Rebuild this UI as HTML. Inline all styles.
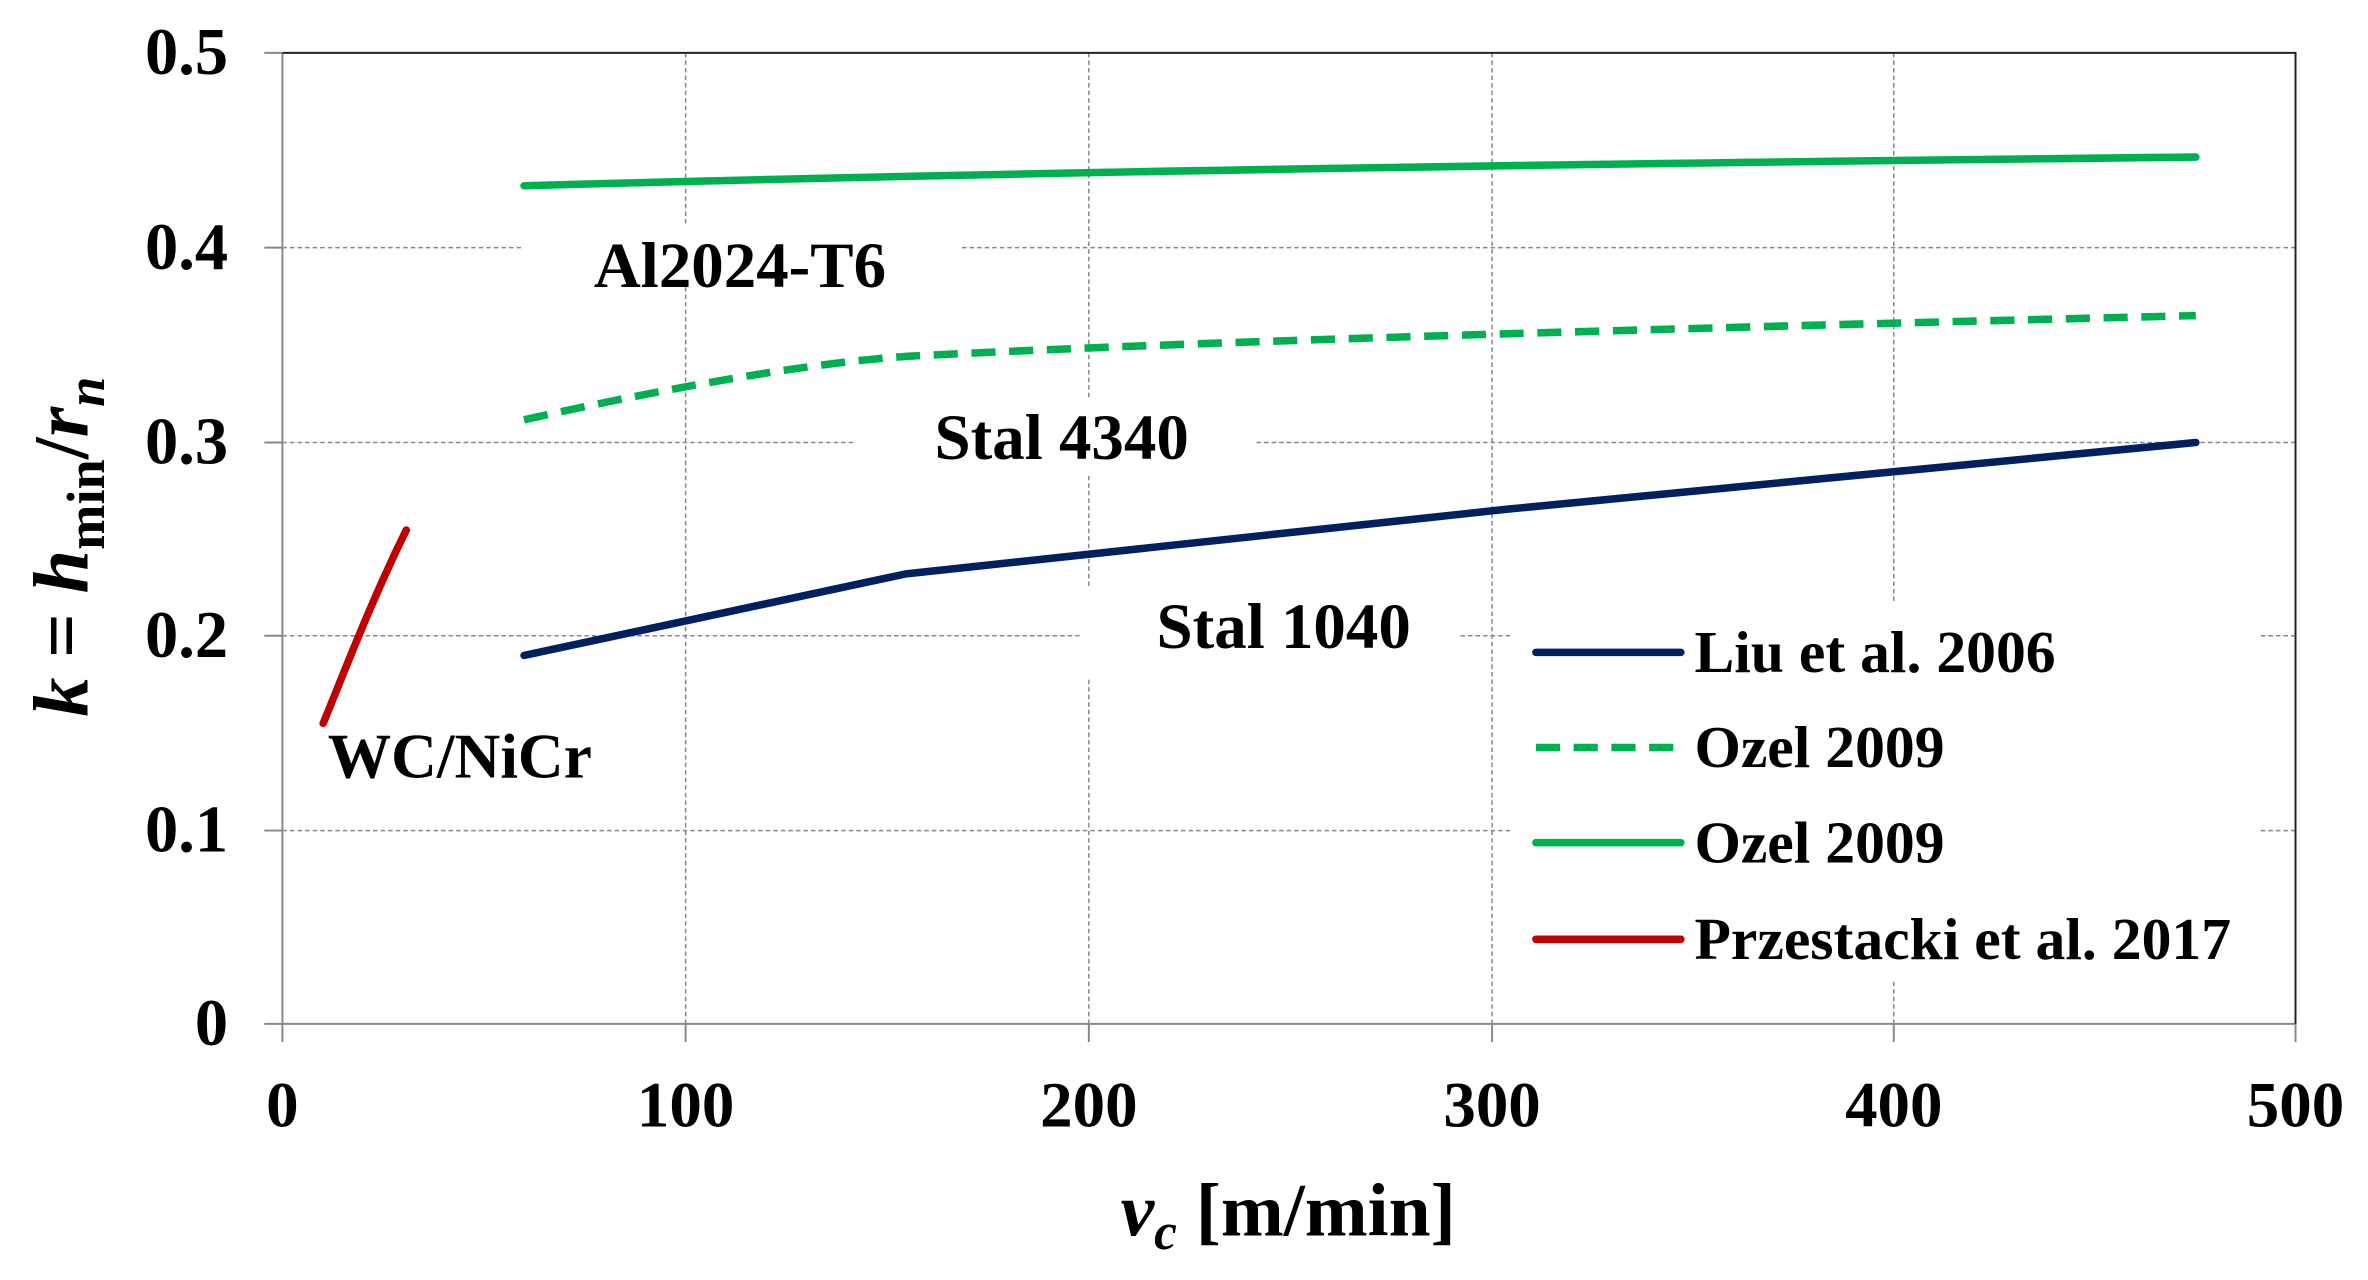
<!DOCTYPE html>
<html><head><meta charset="utf-8"><style>html,body{margin:0;padding:0;background:#fff}svg{display:block}</style></head>
<body>
<svg width="2368" height="1280" viewBox="0 0 1568 847.6" preserveAspectRatio="none" xmlns="http://www.w3.org/2000/svg" font-family="Liberation Serif, serif" font-weight="bold">
<rect width="1568" height="848" fill="#fff"/>
<g stroke="#888" stroke-width="1" stroke-dasharray="3,2">
<line x1="187" y1="164" x2="1520" y2="164"/>
<line x1="187" y1="293" x2="1520" y2="293"/>
<line x1="187" y1="421" x2="1520" y2="421"/>
<line x1="187" y1="550" x2="1520" y2="550"/>
<line x1="454" y1="35" x2="454" y2="678"/>
<line x1="721" y1="35" x2="721" y2="678"/>
<line x1="988" y1="35" x2="988" y2="678"/>
<line x1="1254" y1="35" x2="1254" y2="678"/>
</g>
<g fill="#fff">
<rect x="345" y="150" width="290" height="40"/>
<rect x="565" y="265" width="265" height="50"/>
<rect x="715" y="390" width="250" height="60"/>
<rect x="212" y="480" width="195" height="40"/>
<rect x="1000" y="400" width="495" height="250"/>
</g>
<g stroke="#888" stroke-width="1.3">
<line x1="187" y1="35" x2="187" y2="690"/>
<line x1="175" y1="678" x2="1520" y2="678"/>
<line x1="175" y1="35" x2="187" y2="35"/>
<line x1="175" y1="164" x2="187" y2="164"/>
<line x1="175" y1="293" x2="187" y2="293"/>
<line x1="175" y1="421" x2="187" y2="421"/>
<line x1="175" y1="550" x2="187" y2="550"/>
<line x1="454" y1="678" x2="454" y2="690"/>
<line x1="721" y1="678" x2="721" y2="690"/>
<line x1="988" y1="678" x2="988" y2="690"/>
<line x1="1254" y1="678" x2="1254" y2="690"/>
<line x1="1520" y1="678" x2="1520" y2="690"/>
</g>
<polyline points="187,35 1520,35 1520,678" fill="none" stroke="#222" stroke-width="1.3"/>
<g fill="none" stroke-width="5" stroke-linecap="round">
<path d="M347,123 C600,116 900,110 1454,104" stroke="#00b050"/>
<path d="M347,278 C450,255 540,240 600,236 C750,228 1000,220 1454,209" stroke="#00b050" stroke-dasharray="16,9" stroke-linecap="butt"/>
<path d="M347,434 L600,380 C700,368 850,352 1000,337 L1454,293" stroke="#002060"/>
<path d="M214,479 C230,440 245,400 269,351" stroke="#c00000"/>
<line x1="1017" y1="432" x2="1113" y2="432" stroke="#002060"/>
<line x1="1017" y1="495" x2="1113" y2="495" stroke="#00b050" stroke-dasharray="16,9" stroke-linecap="butt"/>
<line x1="1017" y1="558" x2="1113" y2="558" stroke="#00b050"/>
<line x1="1017" y1="622" x2="1113" y2="622" stroke="#c00000"/>
</g>
<g font-size="44" text-anchor="end" fill="#000">
<text x="151" y="49">0.5</text>
<text x="151" y="178">0.4</text>
<text x="151" y="307">0.3</text>
<text x="151" y="435">0.2</text>
<text x="151" y="564">0.1</text>
<text x="151" y="692">0</text>
</g>
<g font-size="43" text-anchor="middle" fill="#000">
<text x="187" y="746">0</text>
<text x="454" y="746">100</text>
<text x="721" y="746">200</text>
<text x="988" y="746">300</text>
<text x="1254" y="746">400</text>
<text x="1520" y="746">500</text>
<text x="490" y="190">Al2024-T6</text>
<text x="703" y="304">Stal 4340</text>
<text x="850" y="429">Stal 1040</text>
<text x="853" y="818" font-size="50"><tspan font-style="italic">v<tspan font-size="34" dy="9">c</tspan></tspan><tspan dy="-9"> [m/min]</tspan></text>
</g>
<text x="217" y="515" font-size="42" fill="#000">WC/NiCr</text>
<g font-size="39.5" fill="#000">
<text x="1122" y="445">Liu et al. 2006</text>
<text x="1122" y="508">Ozel 2009</text>
<text x="1122" y="571">Ozel 2009</text>
<text x="1122" y="635">Przestacki et al. 2017</text>
</g>
<text transform="translate(58,362) rotate(-90)" text-anchor="middle" font-size="52" font-style="italic" fill="#000">k <tspan font-style="normal">=</tspan> h<tspan font-style="normal" font-size="36" dy="11">min</tspan><tspan font-style="normal" dy="-11">/</tspan>r<tspan font-size="36" dy="11">n</tspan></text>
</svg>
</body></html>
